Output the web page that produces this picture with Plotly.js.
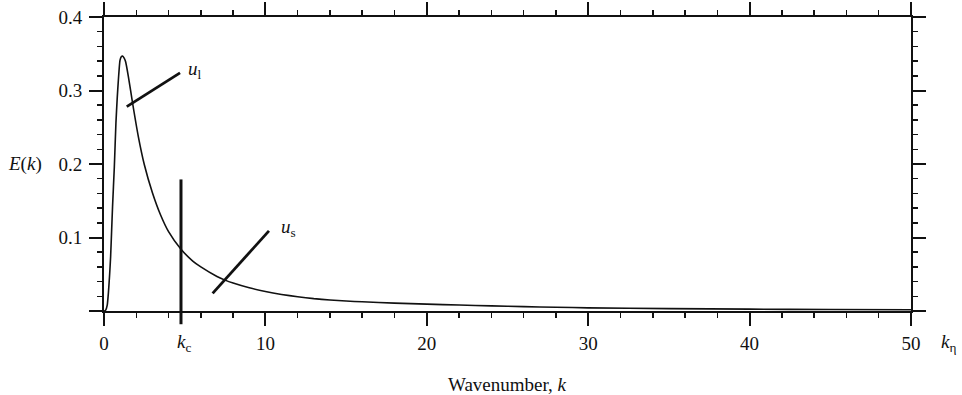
<!DOCTYPE html>
<html>
<head>
<meta charset="utf-8">
<script src="https://cdn.plot.ly/plotly-3.0.1.min.js"></script>
<style>html,body{margin:0;padding:0;background:#fff;}#chart{width:962px;height:395px;}</style>
</head>
<body>
<div id="chart"></div>
<script>
// Energy spectrum E(k)
const wavenumber = [0, 0.1, 0.2, 0.27, 0.35, 0.41, 0.47, 0.53, 0.64, 0.74, 0.82, 0.89, 0.99, 1.07, 1.15, 1.25, 1.34, 1.51, 1.77, 2.13, 2.5, 3.0, 3.5, 4.0, 4.77, 5.5, 6.0, 7.0, 7.5, 8, 9, 10, 11, 12, 13, 14, 15, 16, 18, 20, 22, 24, 26, 28, 30, 35, 40, 45, 50];
const energy = [0, 0.001, 0.008, 0.024, 0.05, 0.074, 0.108, 0.142, 0.196, 0.256, 0.29, 0.314, 0.341, 0.346, 0.347, 0.344, 0.339, 0.319, 0.283, 0.237, 0.199, 0.161, 0.131, 0.108, 0.084, 0.068, 0.060, 0.047, 0.042, 0.038, 0.0315, 0.0265, 0.0225, 0.0194, 0.0168, 0.0150, 0.0136, 0.0125, 0.0107, 0.0093, 0.0081, 0.0070, 0.0060, 0.0051, 0.0043, 0.0032, 0.0025, 0.0020, 0.0017];

// Cut-off wavenumber and the extent of its marker line
const cutoffK = [4.77];
const cutoffTop = [0.179];
const cutoffBottom = [-0.018];

// Leader lines for the labels (k, E) endpoints
const largeScaleLeader = {k: [1.41, 4.71], E: [0.278, 0.324]};
const smallScaleLeader = {k: [6.73, 10.22], E: [0.024, 0.109]};

const yTickVals = [0, 0.1, 0.2, 0.3, 0.4];
const yTickText = ['', '0.1', '0.2', '0.3', '0.4'];
const yRange = [0, 0.4];
const xRange = [0, 50];

const serif = 'Liberation Serif';
const ink = '#111';

const trace = {
  x: wavenumber, y: energy, type: 'scatter', mode: 'lines',
  line: {color: ink, width: 1.6, shape: 'spline', smoothing: 0.5},
  hoverinfo: 'skip', showlegend: false
};

const axisCommon = {
  showline: true, linewidth: 2, linecolor: ink, mirror: 'allticks',
  ticks: 'outside', ticklen: 13, tickwidth: 2, tickcolor: ink,
  showgrid: false, zeroline: false,
  tickfont: {family: serif, size: 19, color: ink}
};

const layout = {
  width: 962, height: 395,
  margin: {l: 104, r: 51, t: 17, b: 84, pad: 0},
  paper_bgcolor: '#fff', plot_bgcolor: '#fff',
  showlegend: false,
  xaxis: Object.assign({}, axisCommon, {
    range: xRange, tickmode: 'linear', tick0: 0, dtick: 10,
    minor: {dtick: 2, tick0: 0, ticks: 'outside', ticklen: 5, tickwidth: 1.5, tickcolor: ink, showgrid: false},
    ticklabelstandoff: 1
  }),
  yaxis: Object.assign({}, axisCommon, {
    range: yRange, tickmode: 'array', tickvals: yTickVals, ticktext: yTickText,
    minor: {dtick: 0.02, tick0: 0, ticks: 'outside', ticklen: 5, tickwidth: 1.5, tickcolor: ink, showgrid: false},
    ticklabelstandoff: 3
  }),
  shapes: [
    {type: 'line', xref: 'x', yref: 'paper',
     x0: cutoffK[0], x1: cutoffK[0],
     y0: cutoffBottom[0] / yRange[1], y1: cutoffTop[0] / yRange[1],
     line: {color: ink, width: 3}},
    {type: 'line', xref: 'x', yref: 'y',
     x0: largeScaleLeader.k[0], x1: largeScaleLeader.k[1],
     y0: largeScaleLeader.E[0], y1: largeScaleLeader.E[1],
     line: {color: ink, width: 2.8}},
    {type: 'line', xref: 'x', yref: 'y',
     x0: smallScaleLeader.k[0], x1: smallScaleLeader.k[1],
     y0: smallScaleLeader.E[0], y1: smallScaleLeader.E[1],
     line: {color: ink, width: 2.8}}
  ],
  annotations: [
    {text: '<i>u</i><sub>l</sub>', xref: 'x', yref: 'y', x: largeScaleLeader.k[1] + 0.4, y: largeScaleLeader.E[1] + 0.004,
     xanchor: 'left', yanchor: 'middle', showarrow: false, font: {family: serif, size: 19, color: ink}},
    {text: '<i>u</i><sub>s</sub>', xref: 'x', yref: 'y', x: smallScaleLeader.k[1] + 0.6, y: smallScaleLeader.E[1] + 0.004,
     xanchor: 'left', yanchor: 'middle', showarrow: false, font: {family: serif, size: 19, color: ink}},
    {text: '<i>k</i><sub>c</sub>', xref: 'x', yref: 'paper', x: cutoffK[0], xshift: 3, y: 0, yshift: -18,
     xanchor: 'center', yanchor: 'top', showarrow: false, font: {family: serif, size: 19, color: ink}},
    {text: '<i>k</i><sub>η</sub>', xref: 'paper', yref: 'paper', x: 1, y: 0, xshift: 28, yshift: -18,
     xanchor: 'left', yanchor: 'top', showarrow: false, font: {family: serif, size: 19, color: ink}},
    {text: 'Wavenumber, <i>k</i>', xref: 'paper', yref: 'paper', x: 0.5, y: 0, yshift: -61,
     xanchor: 'center', yanchor: 'top', showarrow: false, font: {family: serif, size: 19, color: ink}},
    {text: '<i>E</i>(<i>k</i>)', xref: 'paper', yref: 'y', x: 0, xshift: -79, y: 0.2,
     xanchor: 'center', yanchor: 'middle', showarrow: false, font: {family: serif, size: 19, color: ink}}
  ]
};

Plotly.newPlot('chart', [trace], layout, {staticPlot: true, displayModeBar: false});
</script>
</body>
</html>
